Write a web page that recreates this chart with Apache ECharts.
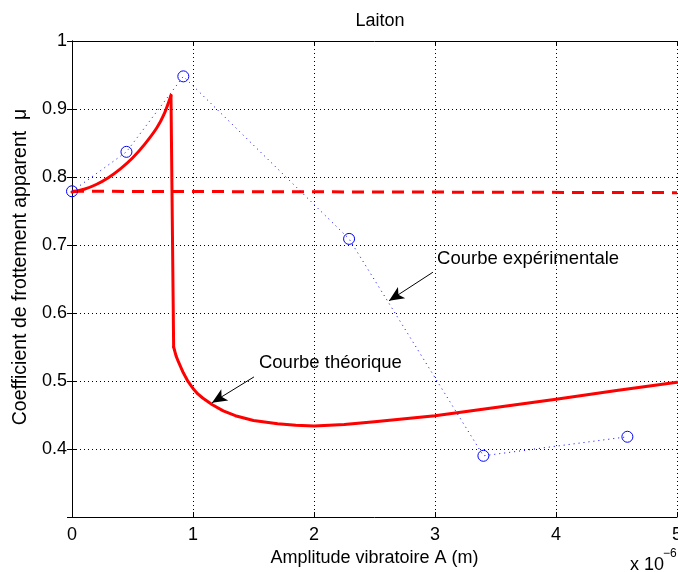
<!DOCTYPE html>
<html><head><meta charset="utf-8">
<script src="https://cdn.jsdelivr.net/npm/echarts@6/dist/echarts.min.js"></script>
<style>html,body{margin:0;padding:0;background:#fff}#c{width:678px;height:572px}</style>
</head><body><div id="c"></div>
<script>
// Experimental measurements (x in units of 1e-6 m)
const expX = [0, 0.45, 0.92, 2.29, 3.40, 4.59];
const expY = [0.779, 0.837, 0.948, 0.709, 0.390, 0.418];
// Theoretical curve: rising branch, sudden drop, then slow branch
const riseX = [0, 0.1, 0.2, 0.3, 0.4, 0.5, 0.6, 0.7, 0.76, 0.818];
const riseY = [0.778, 0.782, 0.789, 0.799, 0.812, 0.828, 0.848, 0.872, 0.892, 0.920];
const dropX = [0.818, 0.84];
const dropY = [0.920, 0.550];
const tailX = [0.84, 0.86, 0.88, 0.92, 0.96, 1.0, 1.04, 1.08, 1.16, 1.25, 1.35, 1.5, 1.7, 1.85, 2.0, 2.25, 2.5, 3.0, 3.5, 4.0, 4.5, 5.0];
const tailY = [0.550, 0.537, 0.528, 0.512, 0.499, 0.489, 0.481, 0.475, 0.465, 0.456, 0.449, 0.442, 0.437, 0.435, 0.434, 0.436, 0.440, 0.449, 0.461, 0.473, 0.486, 0.498];
// Dashed reference line
const dashX = [0, 5];
const dashY = [0.779, 0.777];
const xTicks = [0, 1, 2, 3, 4, 5];
const yTicks = [0.3, 0.4, 0.5, 0.6, 0.7, 0.8, 0.9, 1];

const zip = (a, b) => a.map((v, i) => [v, b[i]]);
const FONT = 'Liberation Sans, Arial, Helvetica, sans-serif';
const FS = 18;
const chart = echarts.init(document.getElementById('c'));
const gridLine = {show: true, lineStyle: {color: '#000', type: [1, 3], width: 1}};
const red = {color: '#ff0000', width: 3, cap: 'round', join: 'round'};
chart.setOption({
  animation: false,
  textStyle: {fontFamily: FONT},
  title: {text: 'Laiton', left: 375, top: 7, textAlign: 'center',
    textStyle: {fontSize: FS, fontWeight: 'normal', color: '#000', fontFamily: FONT}},
  grid: {left: 72, right: 1, top: 41, bottom: 55, containLabel: false, outerBoundsMode: 'none'},
  xAxis: [{
    type: 'value', min: xTicks[0], max: xTicks[xTicks.length - 1], interval: 1,
    axisLine: {lineStyle: {color: '#000', width: 1}},
    axisTick: {inside: true, length: 5, lineStyle: {color: '#000'}},
    axisLabel: {color: '#000', fontSize: FS, margin: 9, fontFamily: FONT, showMaxLabel: true},
    splitLine: gridLine,
    name: 'Amplitude vibratoire A (m)', nameLocation: 'middle', nameGap: 22,
    nameTextStyle: {color: '#000', fontSize: FS, fontFamily: FONT}
  }, {
    type: 'value', position: 'top', min: 0, max: 5, interval: 1,
    axisLine: {lineStyle: {color: '#000'}},
    axisTick: {inside: true, length: 5, lineStyle: {color: '#000'}},
    axisLabel: {show: false}, splitLine: {show: false}
  }],
  yAxis: [{
    type: 'value', min: yTicks[0], max: yTicks[yTicks.length - 1], interval: 0.1,
    axisLine: {show: true, lineStyle: {color: '#000', width: 1}},
    axisTick: {show: true, inside: true, length: 5, lineStyle: {color: '#000'}},
    axisLabel: {color: '#000', fontSize: FS, margin: 5, fontFamily: FONT,
      formatter: v => (Math.abs(v - 0.3) < 1e-6 ? '' : String(+v.toFixed(1)))},
    splitLine: gridLine,
    name: 'Coefficient de frottement apparent  μ', nameLocation: 'middle', nameGap: 40,
    nameTextStyle: {color: '#000', fontSize: 19.5, fontFamily: FONT, padding: [0, 0, 0, 24]}
  }, {
    type: 'value', position: 'right', min: 0.3, max: 1, interval: 0.1,
    axisLine: {show: true, lineStyle: {color: '#000'}},
    axisTick: {show: true, inside: true, length: 5, lineStyle: {color: '#000'}},
    axisLabel: {show: false}, splitLine: {show: false}
  }],
  series: [{
    type: 'line', data: zip(dashX, dashY), symbol: 'none',
    lineStyle: {color: '#ff0000', width: 3, type: [12, 8]}
  }, {
    type: 'line', data: zip(riseX, riseY), symbol: 'none', smooth: 0.3, lineStyle: red
  }, {
    type: 'line', data: zip(dropX, dropY), symbol: 'none', lineStyle: red
  }, {
    type: 'line', data: zip(tailX, tailY), symbol: 'none', lineStyle: red
  }, {
    type: 'line', data: zip(expX, expY), symbol: 'circle', symbolSize: 11,
    itemStyle: {color: 'rgba(0,0,0,0)', borderColor: '#0000ff', borderWidth: 1},
    lineStyle: {color: '#0000ff', width: 1, type: [1, 4]},
    markLine: {
      silent: true, symbol: ['none', 'arrow'], symbolSize: [10, 15],
      lineStyle: {color: '#000', width: 1, type: 'solid'}, label: {show: false},
      data: [
        [{coord: [2.983, 0.660]}, {coord: [2.62, 0.618]}],
        [{coord: [1.504, 0.506]}, {coord: [1.157, 0.468]}]
      ]
    },
    markPoint: {
      silent: true, symbol: 'circle', symbolSize: 0,
      itemStyle: {color: '#000'},
      label: {show: true, position: 'right', distance: 0, color: '#000', fontSize: 18.5, fontFamily: FONT},
      data: [
        {coord: [3.017, 0.679], label: {formatter: 'Courbe expérimentale'}},
        {coord: [1.545, 0.526], label: {formatter: 'Courbe théorique'}}
      ]
    }
  }],
  graphic: [
    {type: 'text', left: 630, top: 556, style: {text: 'x 10', font: '18px ' + FONT, fill: '#000'}},
    {type: 'text', left: 663, top: 548, style: {text: '−6', font: '12px ' + FONT, fill: '#000'}}
  ]
});
</script></body></html>
